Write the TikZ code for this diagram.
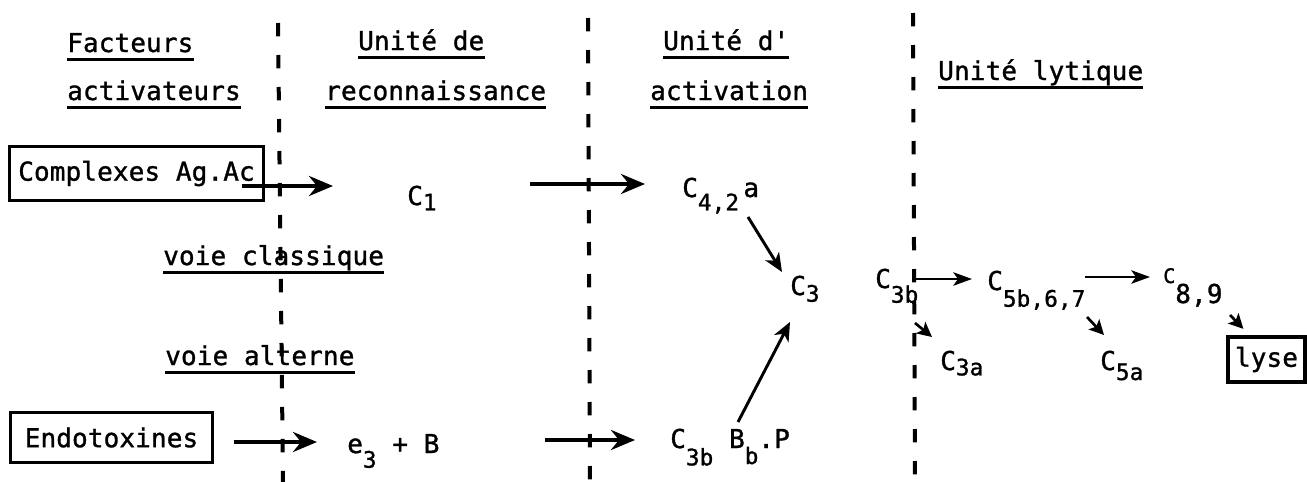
\documentclass[tikz,border=0pt]{standalone}
\usepackage{fontspec}
\usetikzlibrary{arrows.meta}
\newfontfamily\typewr[LetterSpace=0.5,FakeBold=1.2]{DejaVu Sans Mono}
% lowered index, as typed on the machine
\newcommand{\low}[2][8pt]{\raisebox{-#1}{\fontsize{17}{17}\selectfont #2}}
\providecommand{\cplSepWidth}{3pt}
\providecommand{\cplRuleWidth}{2pt}
\providecommand{\cplBoxWidth}{2.4pt}
\begin{document}
\begin{tikzpicture}[
  txt/.style={inner sep=0pt, font=\typewr\fontsize{19.5}{22}\selectfont},
  hdr/.style={txt, anchor=base west},
  frm/.style={txt, anchor=base west},
  boxed/.style={txt, draw, line width=\cplBoxWidth},
  uline/.style={line width=\cplRuleWidth},
  sep/.style={line width=\cplSepWidth, dash pattern=on 10pt off 14pt},
  arr/.style={line width=3pt, -{Stealth[length=18pt,width=15pt,inset=6pt]}},
  diag/.style={line width=2.2pt, -{Stealth[length=14pt,width=12pt,inset=4pt]}},
  thin/.style={line width=2pt, -{Stealth[length=14pt,width=10pt,inset=3.5pt]}},
  stub/.style={line width=2pt, -{Stealth[length=11pt,width=11pt,inset=2.5pt]}}
]
\def\px{0.75pt}
\begin{scope}[x=\px, y=-\px]
  \useasboundingbox (0,0) rectangle (1307,482);
  % Column separators
  \draw[sep] (278,23) -- (283,482);
  \draw[sep] (588,18) -- (590,482);
  \draw[sep] (913,13) -- (915,482);
  % Headers
  \node[hdr] (hfa) at (67,52) {Facteurs};
  \node[hdr] (hfb) at (67,100) {activateurs};
  \node[hdr] (hra) at (358,50) {Unité de};
  \node[hdr] (hrb) at (325,100) {reconnaissance};
  \node[hdr] (haa) at (663,50) {Unité d\textquotesingle};
  \node[hdr] (hab) at (650,100) {activation};
  \node[hdr] (hly) at (938,80) {Unité lytique};
  \node[hdr] (vcl) at (163,265) {voie classique};
  \node[hdr] (val) at (165,365) {voie alterne};
  \foreach \n in {hfa,hfb,hra,hrb,haa,hab,hly,vcl,val}
    \draw[uline] ([yshift=-5.5pt]\n.base west) -- ([yshift=-5.5pt]\n.base east);
  % Activating factors
  \node[boxed, minimum width=190pt, minimum height=40pt] (cpx) at (136.5,173.5) {Complexes Ag.Ac};
  \node[boxed, minimum width=152pt, minimum height=37pt] (endo) at (111.5,437.5) {Endotoxines};
  % Components
  \node[frm] (c1) at (407,205) {C\low[4pt]{1}};
  \node[frm] (c42) at (682,197) {C\low[10pt]{4,2}\,a};
  \node[frm] (c3) at (790,295) {C\low[5pt]{3}};
  \node[frm] (ceb) at (347,453) {e\low[11pt]{3} + B};
  \node[frm] (cbb) at (670,448) {C\low[13pt]{3b} B\low[12pt]{b}.P};
  \node[frm] (c3b) at (875,288) {C\low[11pt]{3b}};
  \node[frm] (c5) at (987,290) {C\low[12.5pt]{5b,6,7}};
  \node[frm] (c89) at (1163,303) {\raisebox{15pt}{\fontsize{15}{15}\selectfont C}8,9};
  \node[frm] (c3a) at (940,370) {C\low[4pt]{3a}};
  \node[frm] (c5a) at (1100,370) {C\low[7.5pt]{5a}};
  \node[boxed, minimum width=57.75pt, minimum height=33.75pt] (lyse) at (1266.5,359.5) {lyse};
  % Classical pathway
  \draw[arr] ([shift={(-23,12.5)}]cpx.east) -- ([shift={(-74,-19)}]c1.base west);
  \draw[arr] ([shift={(123,-21)}]c1.base west) -- ([shift={(-37,-13)}]c42.base west);
  \draw[diag] ([shift={(66,20)}]c42.base west) -- ([shift={(-8,-23)}]c3.base west);
  % Alternative pathway
  \draw[arr] ([shift={(20,4.5)}]endo.east) -- ([shift={(-30,-11)}]ceb.base west);
  \draw[arr] ([shift={(198,-13)}]ceb.base west) -- ([shift={(-35,-8)}]cbb.base west);
  \draw[diag] ([shift={(68,-26)}]cbb.base west) -- ([shift={(0,27)}]c3.base west);
  % Lytic unit
  \draw[thin] ([shift={(40,-9)}]c3b.base west) -- ([shift={(-15,-11)}]c5.base west);
  \draw[thin] ([shift={(98,-13)}]c5.base west) -- ([shift={(-13,-26)}]c89.base west);
  \draw[stub] ([shift={(40,35)}]c3b.base west) -- ([shift={(-8,-33)}]c3a.base west);
  \draw[stub] ([shift={(100,27)}]c5.base west) -- ([shift={(4,-35)}]c5a.base west);
  \draw[stub] ([shift={(67,12)}]c89.base west) -- ([shift={(17,-6.5)}]lyse.north west);
\end{scope}
\end{tikzpicture}
\end{document}
